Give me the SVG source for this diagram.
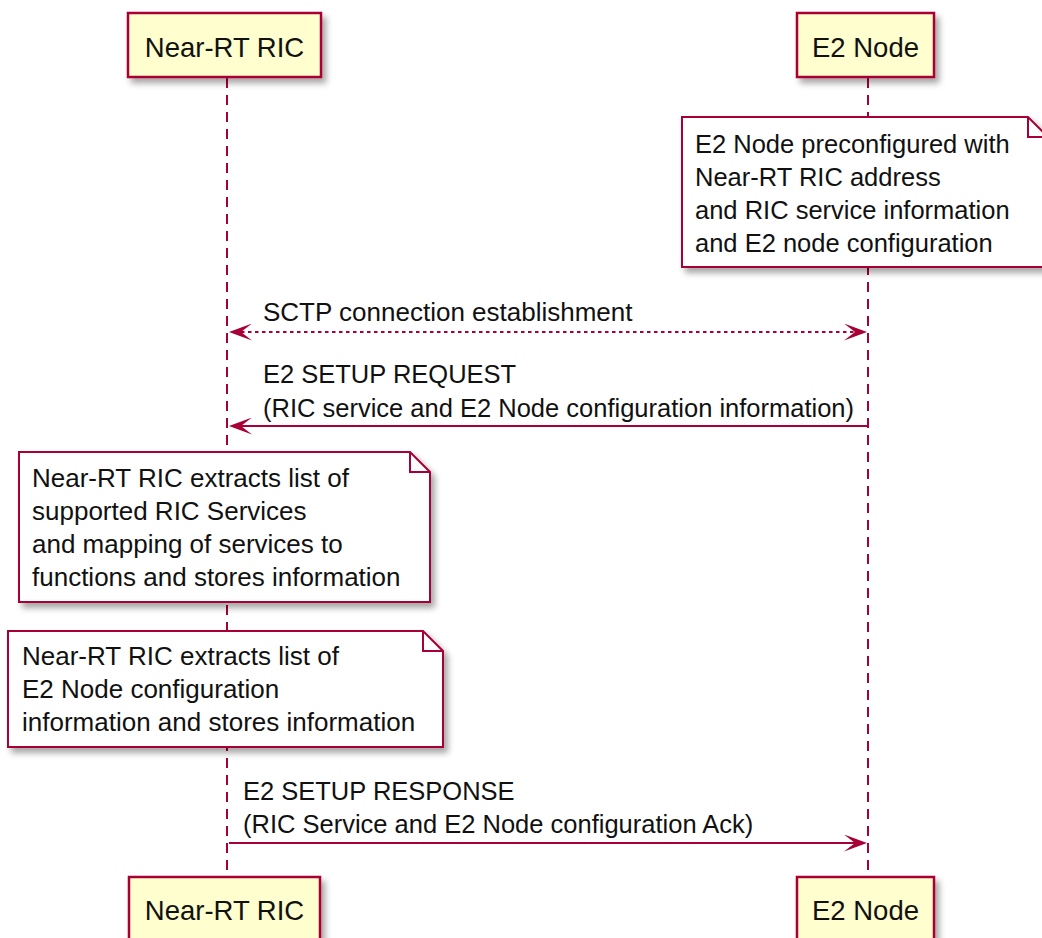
<svg xmlns="http://www.w3.org/2000/svg" width="1042" height="938" viewBox="0 0 1042 938">
<defs>
<style>
text{font-family:"Liberation Sans",Arial,sans-serif;font-size:25.5px;fill:#111}
.lbl{font-size:27.5px;text-anchor:middle}
.big{font-size:26px}
.part{fill:#FEFECE;stroke:#A80036;stroke-width:2.5}
.note{fill:#FFFFFF;stroke:#A80036;stroke-width:2}
.fold{fill:none;stroke:#A80036;stroke-width:2}
.life{stroke:#A80036;stroke-width:2;stroke-dasharray:10,7;fill:none}
.msg{stroke:#A80036;stroke-width:2;fill:none}
.dot{stroke-dasharray:3.5,3.5}
</style>
<filter id="sh" x="-10%" y="-10%" width="130%" height="140%">
<feDropShadow dx="4" dy="5" stdDeviation="3" flood-color="#000" flood-opacity="0.35"/>
</filter>
<marker id="ah" viewBox="0 0 23 17" refX="11" refY="8.5" markerWidth="23" markerHeight="17" markerUnits="userSpaceOnUse" orient="auto-start-reverse">
<path d="M0,0 L23,8.5 L0,17 L11,8.5 Z" fill="#A80036"/>
</marker>
</defs>
<rect width="1042" height="938" fill="#FFFFFF"/>
<g id="lifelines">
<line class="life" x1="227" y1="78" x2="227" y2="877"/>
<line class="life" x1="868" y1="78" x2="868" y2="877"/>
</g>
<g id="ric-top">
<rect class="part" x="128" y="13" width="193" height="64" filter="url(#sh)"/>
<text class="lbl" x="224.5" y="57">Near-RT RIC</text>
</g>
<g id="e2-top">
<rect class="part" x="797" y="13" width="137" height="64" filter="url(#sh)"/>
<text class="lbl" x="865.5" y="57">E2 Node</text>
</g>
<g id="note-e2">
<path class="note" d="M682,117 L1028,117 L1048,137 L1048,267 L682,267 Z" filter="url(#sh)"/>
<path class="fold" d="M1028,117 L1028,137 L1048,137"/>
<text x="695" y="153">E2 Node preconfigured with</text>
<text x="695" y="186">Near-RT RIC address</text>
<text x="695" y="219">and RIC service information</text>
<text x="695" y="252">and E2 node configuration</text>
</g>
<g id="connectors">
<line class="msg dot" x1="241" y1="332" x2="855" y2="332" marker-start="url(#ah)" marker-end="url(#ah)"/>
<text class="big" x="263" y="321">SCTP connection establishment</text>
<line class="msg" x1="868" y1="426" x2="241" y2="426" marker-end="url(#ah)"/>
<text x="263" y="383">E2 SETUP REQUEST</text>
<text x="263" y="417">(RIC service and E2 Node configuration information)</text>
<line class="msg" x1="229" y1="843" x2="855" y2="843" marker-end="url(#ah)"/>
<text x="243" y="800">E2 SETUP RESPONSE</text>
<text x="243" y="833">(RIC Service and E2 Node configuration Ack)</text>
</g>
<g id="note-ric-services">
<path class="note" d="M19,452 L410,452 L430,472 L430,602 L19,602 Z" filter="url(#sh)"/>
<path class="fold" d="M410,452 L410,472 L430,472"/>
<text class="big" x="32" y="487">Near-RT RIC extracts list of</text>
<text class="big" x="32" y="520">supported RIC Services</text>
<text class="big" x="32" y="553">and mapping of services to</text>
<text class="big" x="32" y="586">functions and stores information</text>
</g>
<g id="note-ric-config">
<path class="note" d="M8,631 L423,631 L443,651 L443,747 L8,747 Z" filter="url(#sh)"/>
<path class="fold" d="M423,631 L423,651 L443,651"/>
<text class="big" x="22" y="665">Near-RT RIC extracts list of</text>
<text class="big" x="22" y="698">E2 Node configuration</text>
<text class="big" x="22" y="731">information and stores information</text>
</g>
<g id="ric-bottom">
<rect class="part" x="129" y="877" width="191" height="70" filter="url(#sh)"/>
<text class="lbl" x="224.5" y="920">Near-RT RIC</text>
</g>
<g id="e2-bottom">
<rect class="part" x="797" y="877" width="137" height="70" filter="url(#sh)"/>
<text class="lbl" x="865.5" y="920">E2 Node</text>
</g>
</svg>
